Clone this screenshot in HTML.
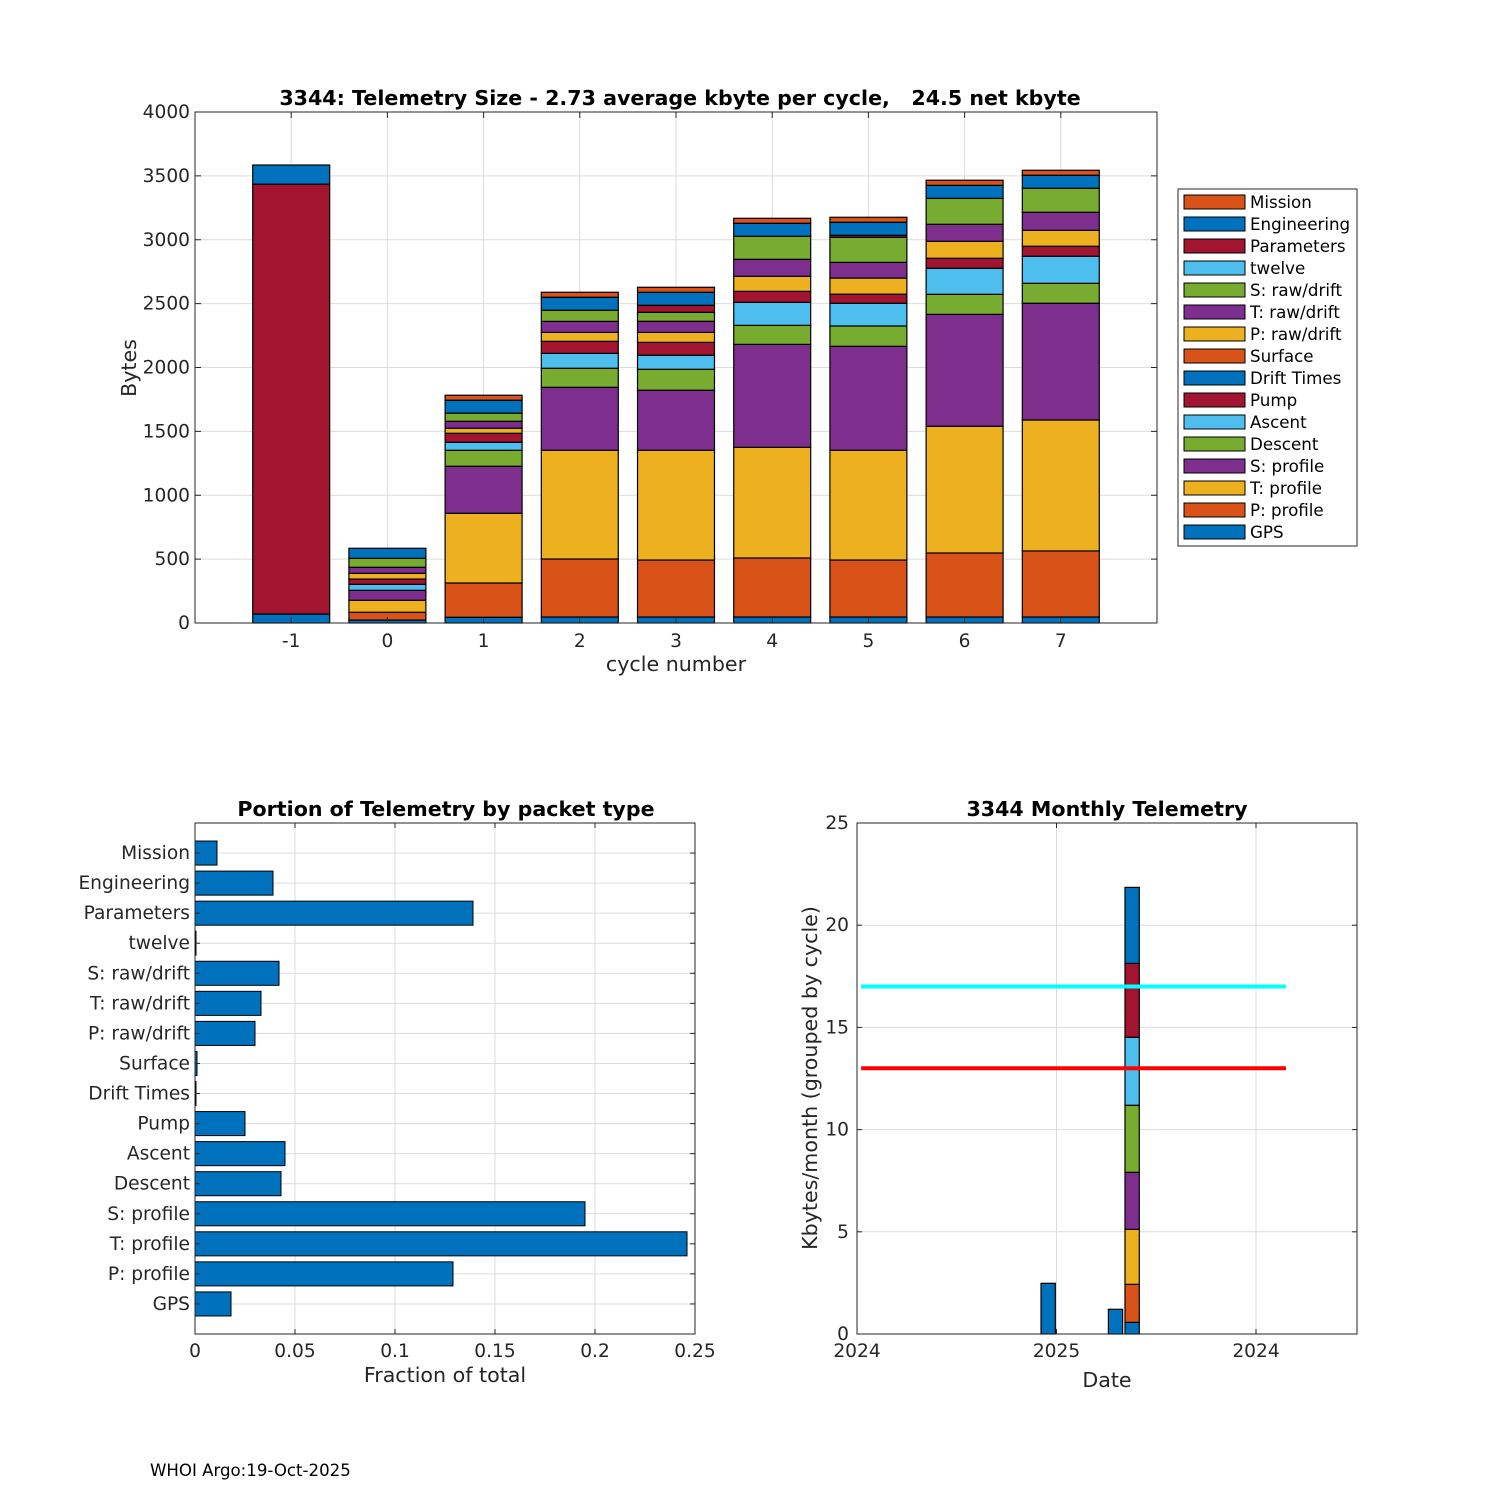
<!DOCTYPE html>
<html><head><meta charset="utf-8">
<style>
html,body{margin:0;padding:0;background:#fff;}
svg{display:block;font-family:"DejaVu Sans","Liberation Sans",sans-serif;}
text{white-space:pre;}
</style></head>
<body>
<svg id="fig" width="1500" height="1500" viewBox="0 0 1500 1500" xmlns="http://www.w3.org/2000/svg">
<rect width="1500" height="1500" fill="#fff"/>
<text x="150" y="1476" font-size="16.6">WHOI Argo:19-Oct-2025</text>
</svg>
<script>
// ---------- data: top stacked chart ----------
const cycles = [-1,0,1,2,3,4,5,6,7];
const packetNames = ["GPS","P: profile","T: profile","S: profile","Descent","Ascent","Pump","Drift Times","Surface","P: raw/drift","T: raw/drift","S: raw/drift","twelve","Parameters","Engineering","Mission"];
const gpsBytes        = [70,23,45,47,47,47,47,47,47];
const pProfileBytes   = [0,61,268,454,446,462,446,501,517];
const tProfileBytes   = [0,94,546,851,859,866,859,992,1025];
const sProfileBytes   = [0,78,368,493,470,806,814,876,914];
const descentBytes    = [0,0,125,149,164,149,159,157,156];
const ascentBytes     = [0,47,63,117,110,180,178,204,212];
const pumpBytes       = [0,41,70,94,101,86,71,78,78];
const driftTimesBytes = [0,0,0,0,0,0,0,0,0];
const surfaceBytes    = [0,0,0,0,0,0,0,0,0];
const pRawBytes       = [0,45,40,70,78,118,126,133,125];
const tRawBytes       = [0,47,54,86,87,133,123,133,141];
const sRawBytes       = [0,70,64,87,70,180,196,203,188];
const twelveBytes     = [0,0,0,0,0,0,0,0,0];
const parametersBytes = [3365,0,0,0,55,0,16,0,0];
const engineeringBytes= [150,79,101,102,102,102,102,102,102];
const missionBytes    = [0,0,39,39,39,39,39,40,39];
const yTicksTop = [0,500,1000,1500,2000,2500,3000,3500,4000];
// ---------- data: fraction chart ----------
const fractionValues = [0.018,0.129,0.246,0.195,0.043,0.045,0.025,0.0005,0.001,0.030,0.033,0.042,0.0005,0.139,0.039,0.011];
const xTicksFrac = [0,0.05,0.1,0.15,0.2,0.25];
const xTickFracLabels = ["0","0.05","0.1","0.15","0.2","0.25"];
// ---------- data: monthly chart ----------
const monthPos = [11.5,15.55,16.55];
const monthStackA = [2.48,1.21,0.57];
const monthStackSegs = [[0,0,1.86],[0,0,2.69],[0,0,2.79],[0,0,3.28],[0,0,3.33],[0,0,3.61],[0,0,3.72]];
const monthlyLimitHigh = 17;
const monthlyLimitLow = 13;
const yTicksMonth = [0,5,10,15,20,25];
const xTicksMonth = [0,12,24];
const xTickMonthLabels = ["2024","2025","2024"];

const C=["#0072BD","#D95319","#EDB120","#7E2F8E","#77AC30","#4DBEEE","#A2142F"];
const NS="http://www.w3.org/2000/svg";
const svg=document.getElementById('fig');
function mk(tag,attrs,parent){const e=document.createElementNS(NS,tag);for(const k in attrs)e.setAttribute(k,attrs[k]);(parent||svg).appendChild(e);return e;}
function txt(s,attrs,parent){const e=mk('text',attrs,parent);e.textContent=s;return e;}
const FS=18.6, TFS=20.6;

// ================= TOP CHART =================
(function(){
const L=195,R=1157,T=112,B=623;
const xs=v=>L+(v+2)/10*(R-L);
const ys=v=>B-v/4000*(B-T);
const g=mk('g',{});


for(const t of yTicksTop){mk('line',{x1:L,x2:R,y1:ys(t),y2:ys(t),stroke:'#dcdcdc','stroke-width':1},g);}
for(const c of cycles){mk('line',{x1:xs(c),x2:xs(c),y1:T,y2:B,stroke:'#dcdcdc','stroke-width':1},g);}
const series=[gpsBytes,pProfileBytes,tProfileBytes,sProfileBytes,descentBytes,ascentBytes,pumpBytes,driftTimesBytes,surfaceBytes,pRawBytes,tRawBytes,sRawBytes,twelveBytes,parametersBytes,engineeringBytes,missionBytes];
cycles.forEach((c,i)=>{
  let acc=0;
  series.forEach((s,k)=>{
    const v=s[i]; if(v<=0)return;
    const r=mk('rect',{x:xs(c-0.4),y:ys(acc+v),width:xs(c+0.4)-xs(c-0.4),height:ys(acc)-ys(acc+v),fill:C[k%7],stroke:'#000','stroke-width':1.2},g);
    
    
    acc+=v;
  });
});
mk('rect',{x:L,y:T,width:R-L,height:B-T,fill:'none',stroke:'#262626','stroke-width':1},g);
for(const t of yTicksTop){
  mk('line',{x1:L,x2:L+6,y1:ys(t),y2:ys(t),stroke:'#262626'},g);
  mk('line',{x1:R,x2:R-6,y1:ys(t),y2:ys(t),stroke:'#262626'},g);
  txt(String(t),{x:L-5,y:ys(t)+6,'font-size':FS,'text-anchor':'end',fill:'#262626'},g);
}
for(const c of cycles){
  mk('line',{x1:xs(c),x2:xs(c),y1:B,y2:B-6,stroke:'#262626'},g);
  mk('line',{x1:xs(c),x2:xs(c),y1:T,y2:T+6,stroke:'#262626'},g);
  txt(String(c),{x:xs(c),y:B+24,'font-size':FS,'text-anchor':'middle',fill:'#262626'},g);
}
txt('cycle number',{x:676,y:671,'font-size':TFS,'text-anchor':'middle',fill:'#262626',},g);
txt('Bytes',{x:0,y:0,'font-size':TFS,'text-anchor':'middle',fill:'#262626',transform:'translate(136,368) rotate(-90)',},g);
txt('3344: Telemetry Size - 2.73 average kbyte per cycle,   24.5 net kbyte',{x:680,y:105,'font-size':TFS,'font-weight':'bold','text-anchor':'middle',fill:'#000',},g);
// legend
const lg=mk('g',{},g);


mk('rect',{x:1178,y:189,width:179,height:357,fill:'#fff',stroke:'#262626'},lg);
for(let k=0;k<16;k++){
  const idx=15-k; const y=202+k*22;
  mk('rect',{x:1184,y:y-7,width:61,height:14,fill:C[idx%7],stroke:'#000','stroke-width':1},lg);
  const t=txt(packetNames[idx],{x:1250,y:y+6,'font-size':16.7,fill:'#000'},lg);
  
  
}
})();

// ================= FRACTION CHART =================
(function(){
const L=195,R=695,T=823,B=1334;
const xs=v=>L+v/0.25*(R-L);
const ys=v=>B-v/17*(B-T);
const g=mk('g',{});


for(const t of xTicksFrac){mk('line',{x1:xs(t),x2:xs(t),y1:T,y2:B,stroke:'#dcdcdc'},g);}
for(let i=1;i<=16;i++){mk('line',{x1:L,x2:R,y1:ys(i),y2:ys(i),stroke:'#dcdcdc'},g);}
fractionValues.forEach((v,i)=>{
  const r=mk('rect',{x:L,y:ys(i+1.4),width:xs(v)-L,height:ys(i+0.6)-ys(i+1.4),fill:C[0],stroke:'#000','stroke-width':1},g);
  
  
});
mk('rect',{x:L,y:T,width:R-L,height:B-T,fill:'none',stroke:'#262626'},g);
xTicksFrac.forEach((t,i)=>{
  mk('line',{x1:xs(t),x2:xs(t),y1:B,y2:B-5,stroke:'#262626'},g);
  mk('line',{x1:xs(t),x2:xs(t),y1:T,y2:T+5,stroke:'#262626'},g);
  txt(xTickFracLabels[i],{x:xs(t),y:B+23,'font-size':FS,'text-anchor':'middle',fill:'#262626'},g);
});
packetNames.forEach((n,i)=>{
  mk('line',{x1:L,x2:L+5,y1:ys(i+1),y2:ys(i+1),stroke:'#262626'},g);
  mk('line',{x1:R,x2:R-5,y1:ys(i+1),y2:ys(i+1),stroke:'#262626'},g);
  txt(n,{x:L-5,y:ys(i+1)+6,'font-size':FS,'text-anchor':'end',fill:'#262626'},g);
});
txt('Fraction of total',{x:445,y:1382,'font-size':TFS,'text-anchor':'middle',fill:'#262626',},g);
txt('Portion of Telemetry by packet type',{x:446,y:816,'font-size':TFS,'font-weight':'bold','text-anchor':'middle',fill:'#000',},g);
})();

// ================= MONTHLY CHART =================
(function(){
const L=857,R=1357,T=823,B=1334;
const xs=v=>L+v/12*199.5;
const ys=v=>B-v/25*(B-T);
const g=mk('g',{});


for(const t of yTicksMonth){mk('line',{x1:L,x2:R,y1:ys(t),y2:ys(t),stroke:'#dcdcdc'},g);}
for(const t of xTicksMonth){mk('line',{x1:xs(t),x2:xs(t),y1:T,y2:B,stroke:'#dcdcdc'},g);}
const segColors=[C[1],C[2],C[3],C[4],C[5],C[6],C[0]];
monthPos.forEach((m,i)=>{
  let acc=0;
  const draw=(v,col)=>{ if(v<=0)return;
    const r=mk('rect',{x:xs(m-0.43),y:ys(acc+v),width:xs(m+0.43)-xs(m-0.43),height:ys(acc)-ys(acc+v),fill:col,stroke:'#000','stroke-width':1.2},g);
    
    
    acc+=v;};
  draw(monthStackA[i],C[0]);
  monthStackSegs.forEach((s,k)=>draw(s[i],segColors[k]));
});
const lh=mk('line',{x1:xs(0.25),x2:xs(25.8),y1:ys(monthlyLimitHigh),y2:ys(monthlyLimitHigh),stroke:'#00FFFF','stroke-width':4},g);


const ll=mk('line',{x1:xs(0.25),x2:xs(25.8),y1:ys(monthlyLimitLow),y2:ys(monthlyLimitLow),stroke:'#FF0000','stroke-width':4},g);


mk('rect',{x:L,y:T,width:R-L,height:B-T,fill:'none',stroke:'#262626'},g);
for(const t of yTicksMonth){
  mk('line',{x1:L,x2:L+5,y1:ys(t),y2:ys(t),stroke:'#262626'},g);
  mk('line',{x1:R,x2:R-5,y1:ys(t),y2:ys(t),stroke:'#262626'},g);
  txt(String(t),{x:L-8,y:ys(t)+6,'font-size':FS,'text-anchor':'end',fill:'#262626'},g);
}
xTicksMonth.forEach((t,i)=>{
  mk('line',{x1:xs(t),x2:xs(t),y1:B,y2:B-5,stroke:'#262626'},g);
  mk('line',{x1:xs(t),x2:xs(t),y1:T,y2:T+5,stroke:'#262626'},g);
  txt(xTickMonthLabels[i],{x:xs(t),y:B+23,'font-size':FS,'text-anchor':'middle',fill:'#262626'},g);
});
txt('Date',{x:1107,y:1387,'font-size':TFS,'text-anchor':'middle',fill:'#262626',},g);
txt('Kbytes/month (grouped by cycle)',{x:0,y:0,'font-size':TFS,'text-anchor':'middle',fill:'#262626',transform:'translate(817,1078) rotate(-90)',},g);
txt('3344 Monthly Telemetry',{x:1107,y:816,'font-size':TFS,'font-weight':'bold','text-anchor':'middle',fill:'#000',},g);
})();
</script>
</body></html>
